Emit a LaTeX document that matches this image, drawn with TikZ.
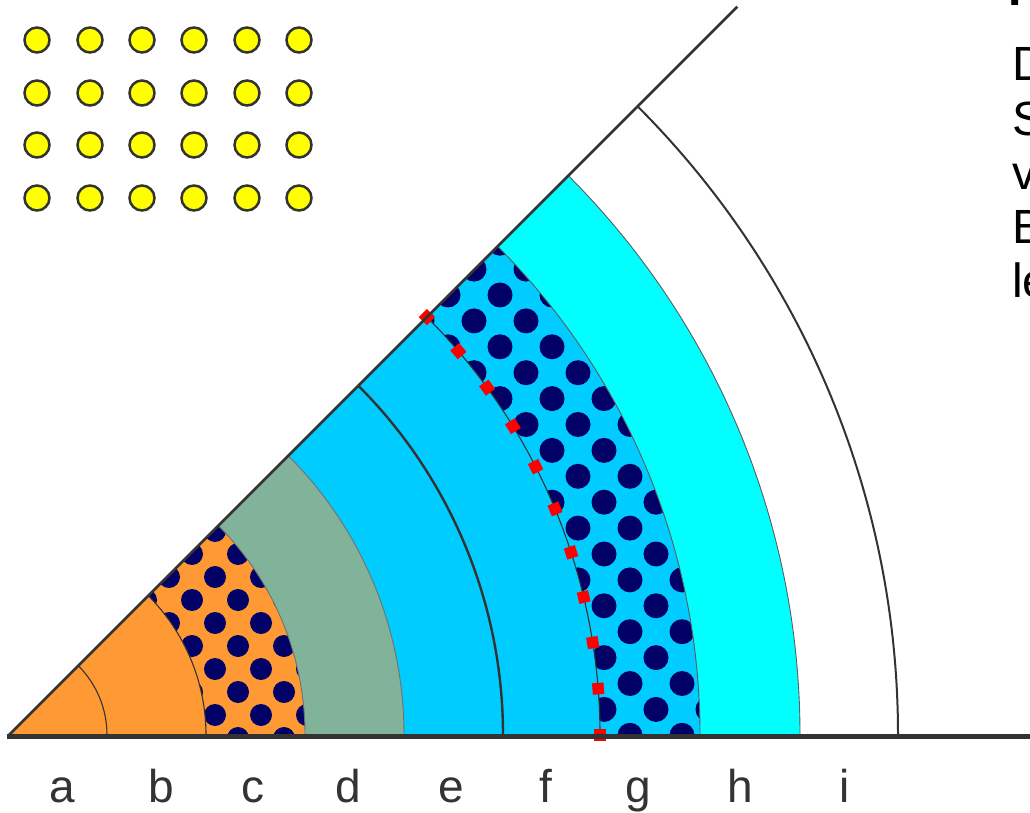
\documentclass[tikz,border=0pt]{standalone}
\usepackage{fontspec}
\setmainfont{Liberation Sans}
\definecolor{orng}{HTML}{FF9933}
\definecolor{sage}{HTML}{80B39A}
\definecolor{skyb}{HTML}{00CCFF}
\definecolor{cyn}{HTML}{00FFFF}
\definecolor{navy}{HTML}{000066}
\definecolor{dk}{HTML}{333333}
\definecolor{yel}{HTML}{FFFF00}
\newcommand\annsec[2]{(0:#1) arc[start angle=0,end angle=45,radius=#1] -- (45:#2) arc[start angle=45,end angle=0,radius=#2] -- cycle}
\tikzset{
  arcline/.style={draw=dk, line width=1.1pt},
  thickarc/.style={draw=dk, line width=2.4pt},
  sqmark/.style={fill=red, draw=none, minimum size=11.5pt, inner sep=0pt, outer sep=0pt},
  ydot/.style={circle, fill=yel, draw=dk, line width=2.5pt, minimum size=25pt, inner sep=0pt},
  lbl/.style={font=\fontsize{46}{52}\selectfont, text=dk, anchor=base, inner sep=0pt},
  rtxt/.style={font=\fontsize{48}{54}\selectfont, text=black, anchor=base west, inner sep=0pt},
  navydot/.style={fill=navy}
}
\begin{document}
\begin{tikzpicture}[x=1pt,y=1pt]
\useasboundingbox (0,0) rectangle (1030,812);
\clip (0,0) rectangle (1030,812);
\begin{scope}[shift={(9,77)}]
  % filled bands
  \fill[orng] (0,0) -- (0:197) arc[start angle=0,end angle=45,radius=197] -- cycle;
  \fill[orng] \annsec{197}{296};
  \fill[sage] \annsec{296}{395};
  \fill[skyb] \annsec{395}{591};
  \fill[skyb] \annsec{591}{691};
  \fill[cyn] \annsec{691}{791};
  % dots in band c
  \begin{scope}
    \clip \annsec{197}{296};
    \foreach \i in {-3,...,3} \foreach \j in {-5,...,3} {
      \fill[navydot] ({206+46*\i},{158+46*\j}) circle[radius=11];
      \fill[navydot] ({229+46*\i},{181+46*\j}) circle[radius=11];
    }
  \end{scope}
  % dots in band g
  \begin{scope}
    \clip \annsec{591}{691};
    \foreach \i in {-2,...,4} \foreach \j in {-9,...,1} {
      \fill[navydot] ({491+52*\i},{440+51.8*\j}) circle[radius=12.5];
      \fill[navydot] ({517+52*\i},{465.9+51.8*\j}) circle[radius=12.5];
    }
  \end{scope}
  % arcs
  \draw[arcline] (0:98) arc[start angle=0,end angle=45,radius=98];
  \draw[arcline] (0:197) arc[start angle=0,end angle=45,radius=197];
  \draw[draw=dk!70, line width=0.9pt] (0:296) arc[start angle=0,end angle=45,radius=296];
  \draw[draw=dk!70, line width=0.9pt] (0:395) arc[start angle=0,end angle=45,radius=395];
  \draw[thickarc] (0:494) arc[start angle=0,end angle=45,radius=494];
  \draw[arcline] (0:591) arc[start angle=0,end angle=45,radius=591];
  \draw[draw=dk!80, line width=0.9pt] (0:691) arc[start angle=0,end angle=45,radius=691];
  \draw[draw=dk!80, line width=0.9pt] (0:791) arc[start angle=0,end angle=45,radius=791];
  \draw[draw=dk, line width=2pt] (0:889) arc[start angle=0,end angle=45,radius=889];
  % red square markers on arc f/g
  \foreach \a [count=\k] in {0,4.5,...,45} {
    \node[sqmark, rotate=\a] (sq\k) at (\a:591) {};
  }
  % edges of wedge
  \coordinate (O) at (0,0);
  \coordinate (T) at (45:1030);
  \coordinate (B0) at (-2,-1.7);
  \coordinate (B1) at (1040,-1.7);
  \draw[dk, line width=2.6pt] (O) -- (T);
  \draw[dk, line width=5.5pt] (B0) -- (B1);
\end{scope}
% yellow circles
\foreach \x [count=\ci] in {37,90,142,194,247,299} {
  \foreach \y [count=\ri] in {772,719,667,614} {
    \node[ydot] (y\ci\ri) at (\x,\y) {};
  }
}
% labels
\foreach \t/\x in {a/62,b/161,c/253,d/348,e/451,f/546,g/638,h/740,i/845} {
  \node[lbl] (l\t) at (\x,10) {\t};
}
% right-hand text (cut by page edge)
\node[rtxt, font=\fontsize{48}{54}\selectfont\bfseries] (r0) at (1008,806) {K};
\node[rtxt] (r1) at (1012,731) {D};
\node[rtxt] (r2) at (1012,676.5) {S};
\node[rtxt] (r3) at (1012,622) {v};
\node[rtxt] (r4) at (1012,568) {B};
\node[rtxt] (r5) at (1012,514) {le};
\end{tikzpicture}
\end{document}
